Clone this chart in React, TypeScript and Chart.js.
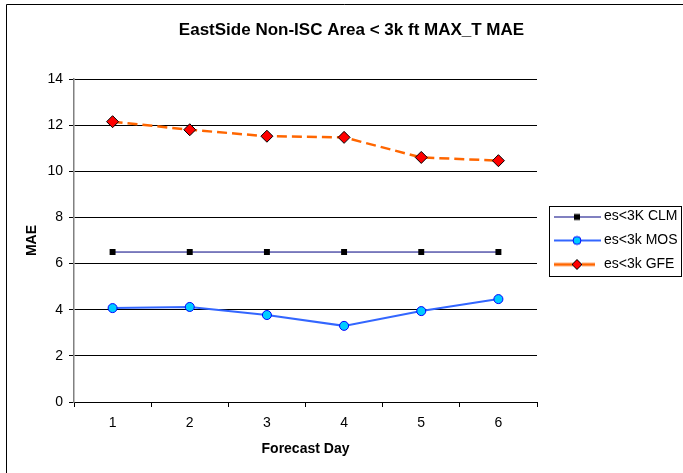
import React, { useEffect, useRef } from "react";
import { Chart, registerables } from "chart.js";

Chart.register(...registerables);

const TITLE = "EastSide Non-ISC Area < 3k ft MAX_T MAE";
const X_TITLE = "Forecast Day";
const Y_TITLE = "MAE";
const days = ["1", "2", "3", "4", "5", "6"];
const clm = [6.5, 6.5, 6.5, 6.5, 6.5, 6.5];
const mos = [4.07, 4.12, 3.77, 3.3, 3.94, 4.46];
const gfe = [12.15, 11.8, 11.52, 11.47, 10.6, 10.46];
const seriesNames = ["es<3K CLM", "es<3k MOS", "es<3k GFE"];

const FONT = "'Liberation Sans', Arial, sans-serif";

function legendImage(kind: string): HTMLCanvasElement {
  const c = document.createElement("canvas");
  c.width = 58;
  c.height = 14;
  const ctx = c.getContext("2d")!;
  const cy = 7;
  const mx = 34;
  if (kind === "clm") {
    ctx.strokeStyle = "#000080";
    ctx.lineWidth = 1;
    ctx.beginPath();
    ctx.moveTo(11, cy + 0.5);
    ctx.lineTo(58, cy + 0.5);
    ctx.stroke();
    ctx.fillStyle = "#000000";
    ctx.fillRect(mx - 3, cy - 2.5, 6, 6);
  } else if (kind === "mos") {
    ctx.strokeStyle = "#3366FF";
    ctx.lineWidth = 2;
    ctx.beginPath();
    ctx.moveTo(11, cy);
    ctx.lineTo(58, cy);
    ctx.stroke();
    ctx.beginPath();
    ctx.arc(mx, cy, 4, 0, Math.PI * 2);
    ctx.fillStyle = "#00CCFF";
    ctx.fill();
    ctx.strokeStyle = "#0000FF";
    ctx.lineWidth = 1;
    ctx.stroke();
  } else {
    ctx.strokeStyle = "#FF6600";
    ctx.lineWidth = 3;
    ctx.beginPath();
    ctx.moveTo(11, cy);
    ctx.lineTo(30, cy);
    ctx.moveTo(39, cy);
    ctx.lineTo(52, cy);
    ctx.stroke();
    ctx.beginPath();
    ctx.moveTo(mx, cy - 5);
    ctx.lineTo(mx + 5, cy);
    ctx.lineTo(mx, cy + 5);
    ctx.lineTo(mx - 5, cy);
    ctx.closePath();
    ctx.fillStyle = "#FF0000";
    ctx.fill();
    ctx.strokeStyle = "#000000";
    ctx.lineWidth = 1;
    ctx.stroke();
  }
  return c;
}

const framePlugin = {
  id: "frame",
  beforeDraw(chart: any) {
    const ctx = chart.ctx;
    ctx.save();
    ctx.fillStyle = "#ffffff";
    ctx.fillRect(0, 0, chart.width, chart.height);
    ctx.strokeStyle = "#000000";
    ctx.lineWidth = 1;
    ctx.beginPath();
    ctx.moveTo(6.5, chart.height);
    ctx.lineTo(6.5, 4.5);
    ctx.lineTo(chart.width, 4.5);
    ctx.stroke();
    ctx.restore();
  },
  afterDraw(chart: any) {
    const lg = chart.legend;
    if (!lg || !lg.legendHitBoxes || !lg.legendHitBoxes.length) return;
    const hb = lg.legendHitBoxes;
    const top = Math.round(hb[0].top - 4) + 0.5;
    const bottom = Math.round(hb[hb.length - 1].top + 18) + 0.5;
    const left = Math.round(lg.left + 12) + 0.5;
    const right = chart.width - 1.5;
    const ctx = chart.ctx;
    ctx.save();
    ctx.strokeStyle = "#000000";
    ctx.lineWidth = 1;
    ctx.strokeRect(left, top, right - left, bottom - top);
    ctx.restore();
  },
};

export default function App() {
  const ref = useRef<HTMLCanvasElement | null>(null);
  useEffect(() => {
    document.body.style.margin = "0";
    const imgs = [legendImage("clm"), legendImage("mos"), legendImage("gfe")];
    const chart = new Chart(ref.current!, {
      type: "line",
      data: {
        labels: days,
        datasets: [
          {
            label: seriesNames[0],
            data: clm,
            borderColor: "#000080",
            borderWidth: 1,
            pointStyle: "rect",
            pointRadius: 4.2,
            pointBackgroundColor: "#000000",
            pointBorderColor: "#000000",
            pointBorderWidth: 0,
          },
          {
            label: seriesNames[1],
            data: mos,
            borderColor: "#3366FF",
            borderWidth: 2,
            pointStyle: "circle",
            pointRadius: 4.5,
            pointBackgroundColor: "#00CCFF",
            pointBorderColor: "#0000FF",
            pointBorderWidth: 1,
          },
          {
            label: seriesNames[2],
            data: gfe,
            borderColor: "#FF6600",
            borderWidth: 2.5,
            borderDash: [10, 5],
            pointStyle: "rectRot",
            pointRadius: 6,
            pointBackgroundColor: "#FF0000",
            pointBorderColor: "#000000",
            pointBorderWidth: 1,
          },
        ],
      },
      options: {
        responsive: false,
        animation: false,
        layout: { padding: { left: 20, right: 0, top: 0, bottom: 0 } },
        font: { family: FONT },
        plugins: {
          tooltip: { enabled: false },
          title: {
            display: true,
            text: TITLE,
            color: "#000000",
            font: { family: FONT, size: 17, weight: "bold" },
            padding: { top: 20, bottom: 38.6 },
          },
          legend: {
            display: true,
            position: "right",
            fullSize: false,
            maxWidth: 146,
            onClick: () => {},
            labels: {
              usePointStyle: true,
              pointStyleWidth: 50,
              padding: 10,
              color: "#000000",
              font: { family: FONT, size: 14 },
              generateLabels: (ch: any) =>
                ch.data.datasets.map((ds: any, i: number) => ({
                  text: ds.label,
                  pointStyle: imgs[i],
                  fillStyle: "transparent",
                  strokeStyle: "transparent",
                  lineWidth: 0,
                  hidden: false,
                  datasetIndex: i,
                  fontColor: "#000000",
                })),
            },
          },
        },
        scales: {
          x: {
            type: "category",
            offset: true,
            afterFit: (s: any) => {
              s.height = 71;
            },
            grid: {
              display: true,
              offset: true,
              drawOnChartArea: false,
              drawTicks: true,
              tickLength: 5,
              color: "#000000",
            },
            border: { display: true, color: "#000000", width: 1 },
            ticks: {
              color: "#000000",
              padding: 8,
              font: { family: FONT, size: 14 },
              maxRotation: 0,
            },
            title: {
              display: true,
              text: X_TITLE,
              color: "#000000",
              font: { family: FONT, size: 14, weight: "bold" },
              padding: { top: 0, bottom: 15.6 },
            },
          },
          y: {
            min: 0,
            max: 14,
            afterFit: (s: any) => {
              s.width = 54;
            },
            ticks: {
              stepSize: 2,
              color: "#000000",
              padding: 6,
              font: { family: FONT, size: 14 },
            },
            grid: {
              color: "#000000",
              lineWidth: 1,
              drawTicks: true,
              tickLength: 5,
            },
            border: { display: true, color: "#808080", width: 1.5 },
            title: {
              display: true,
              text: Y_TITLE,
              color: "#000000",
              font: { family: FONT, size: 14, weight: "bold" },
              padding: { top: 4, bottom: 0 },
            },
          },
        },
      },
      plugins: [framePlugin],
    });
    return () => chart.destroy();
  }, []);
  return (
    <canvas
      ref={ref}
      width={683}
      height={473}
      style={{ display: "block", width: 683, height: 473 }}
    />
  );
}
